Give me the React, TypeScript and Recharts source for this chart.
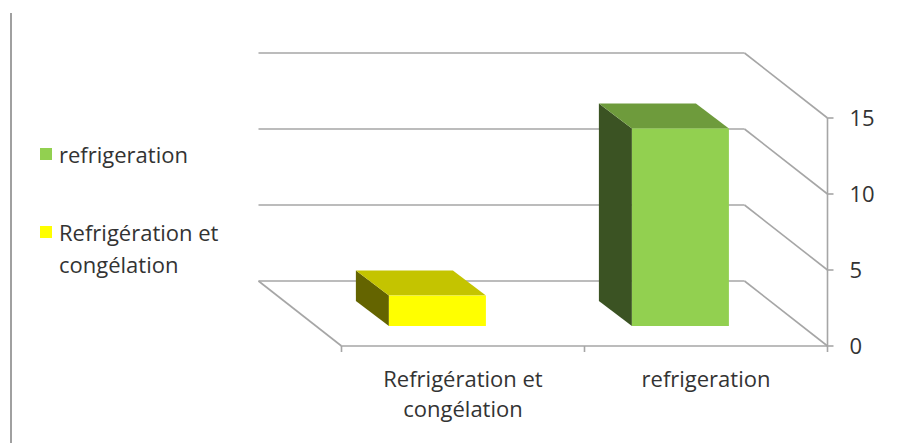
import React from 'react';
import { BarChart, Bar, XAxis, YAxis, CartesianGrid, Cell, Legend } from 'recharts';

// Categories and values
const categories = ['Refrigération et congélation', 'refrigeration'];
const values = [2, 13];
const categoryLabelLines = [['Refrigération et', 'congélation'], ['refrigeration']];
const yTicks = [0, 5, 10, 15];

// Legend entries (listed in reverse category order)
const legendLabels = [['refrigeration'], ['Refrigération et', 'congélation']];
const legendColors = ['#92D050', '#FFFF00'];

// Face colours per category
const frontColors = ['#FFFF00', '#92D050'];
const topColors = ['#C4C400', '#6E9B3C'];
const sideColors = ['#646400', '#3B5323'];

const FONT = '"Open Sans", sans-serif';
const TEXT = '#333333';
const GRID = '#A6A6A6';
const FONT_SIZE = 22;

// Projection offsets relative to the plane in which bar fronts stand
const FRONT = { dx: 25.5, dy: 20 };
const BACK = { dx: -57.5, dy: -45 };
const BAR_DEPTH = { dx: 33, dy: 25 };

const data = categories.map((name, i) => ({ name, value: values[i], idx: i }));

const Bar3D = (props: any) => {
  const { x, y, width, height, index } = props;
  const { dx, dy } = BAR_DEPTH;
  const side = `${x},${y} ${x - dx},${y - dy} ${x - dx},${y + height - dy} ${x},${y + height}`;
  const top = `${x},${y} ${x - dx},${y - dy} ${x + width - dx},${y - dy} ${x + width},${y}`;
  return (
    <g>
      <polygon points={side} fill={sideColors[index]} />
      <polygon points={top} fill={topColors[index]} />
      <rect x={x} y={y} width={width} height={height} fill={frontColors[index]} />
    </g>
  );
};

const GridLine3D = (props: any) => {
  const { x1, x2, y1, y, height, index } = props;
  const isFloor = y !== undefined && height !== undefined ? Math.abs(y1 - (y + height)) < 1 : index === 0;
  const bx1 = x1 + BACK.dx;
  const bx2 = x2 + BACK.dx;
  const by = y1 + BACK.dy;
  const fx1 = x1 + FRONT.dx;
  const fx2 = x2 + FRONT.dx;
  const fy = y1 + FRONT.dy;
  const common = { stroke: GRID, strokeWidth: 1.6, fill: 'none' };
  const n = categories.length;
  return (
    <g key={`g3d-${index}`}>
      <line x1={bx1} y1={by} x2={bx2} y2={by} {...common} />
      <line x1={bx2} y1={by} x2={fx2} y2={fy} {...common} />
      {isFloor && (
        <g>
          <line x1={bx1} y1={by} x2={fx1} y2={fy} {...common} />
          <line x1={fx1} y1={fy} x2={fx2} y2={fy} {...common} />
          <line x1={fx2} y1={y + FRONT.dy} x2={fx2} y2={fy} {...common} />
          {Array.from({ length: n + 1 }, (_, k) => {
            const tx = fx1 + ((fx2 - fx1) * k) / n;
            return <line key={k} x1={tx} y1={fy} x2={tx} y2={fy + 6} {...common} />;
          })}
        </g>
      )}
    </g>
  );
};

const YTick = (props: any) => {
  const { x, y, payload } = props;
  const ax = x + FRONT.dx;
  const ay = y + FRONT.dy;
  return (
    <g>
      <line x1={ax} y1={ay} x2={ax + 6} y2={ay} stroke={GRID} strokeWidth={1.6} />
      <text x={ax + 22} y={ay} dy="0.36em" fill={TEXT} fontSize={FONT_SIZE} fontFamily={FONT}>
        {payload.value}
      </text>
    </g>
  );
};

const XTick = (props: any) => {
  const { x, y, index } = props;
  const lines = categoryLabelLines[index] || [];
  const cx = x + FRONT.dx;
  return (
    <text x={cx} y={y + 61} textAnchor="middle" fill={TEXT} fontSize={FONT_SIZE} fontFamily={FONT}>
      {lines.map((l, i) => (
        <tspan key={i} x={cx} dy={i === 0 ? 0 : 30}>
          {l}
        </tspan>
      ))}
    </text>
  );
};

const LegendContent = () => (
  <div style={{ fontFamily: FONT, fontSize: FONT_SIZE, color: TEXT }}>
    {legendLabels.map((lines, i) => (
      <div key={i} style={{ display: 'flex', alignItems: 'flex-start', marginBottom: i === 0 ? 46 : 0 }}>
        <span
          style={{
            display: 'inline-block',
            width: 12,
            height: 12,
            background: legendColors[i],
            marginTop: 10,
            marginRight: 7,
            flex: 'none',
          }}
        />
        <span style={{ lineHeight: '32px' }}>
          {lines.map((l, j) => (
            <div key={j}>{l}</div>
          ))}
        </span>
      </div>
    ))}
  </div>
);

export default function App() {
  return (
    <div style={{ position: 'absolute', left: 0, top: 0, width: 916, height: 443, background: '#fff' }}>
      <div style={{ position: 'absolute', left: 10, top: 13, width: 2, height: 430, background: '#A0A0A0' }} />
      <BarChart
        width={916}
        height={443}
        data={data}
        margin={{ top: 98, right: 74, bottom: 57, left: 316 }}
        barCategoryGap="30%"
      >
        <CartesianGrid vertical={false} horizontal={(p: any) => <GridLine3D {...p} />} />
        <XAxis
          dataKey="name"
          axisLine={false}
          tickLine={false}
          tickSize={0}
          tickMargin={0}
          height={60}
          interval={0}
          tick={<XTick />}
        />
        <YAxis
          orientation="right"
          domain={[0, 15]}
          ticks={yTicks}
          axisLine={false}
          tickLine={false}
          tickSize={0}
          tickMargin={0}
          width={40}
          tick={<YTick />}
        />
        <Legend
          layout="horizontal"
          align="center"
          verticalAlign="middle"
          content={<LegendContent />}
          wrapperStyle={{ position: 'absolute', left: 40, top: 138, width: 220 }}
        />
        <Bar dataKey="value" isAnimationActive={false} shape={<Bar3D />}>
          {data.map((d, i) => (
            <Cell key={i} fill={frontColors[i]} />
          ))}
        </Bar>
      </BarChart>
    </div>
  );
}
